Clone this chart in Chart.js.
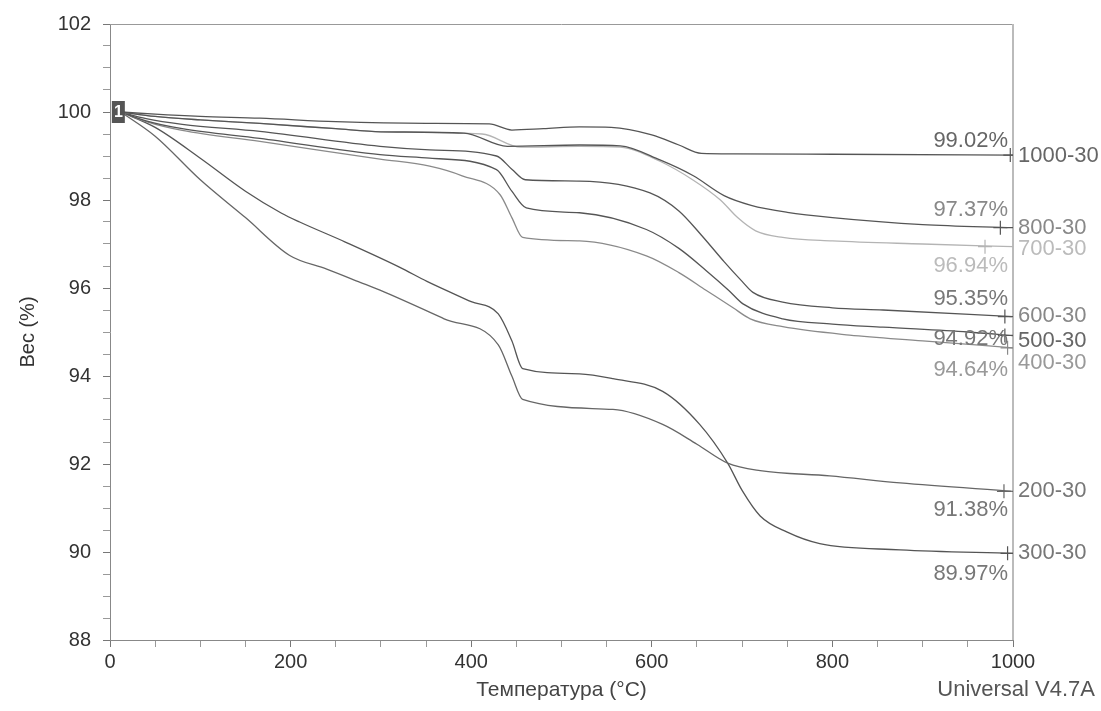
<!DOCTYPE html>
<html>
<head>
<meta charset="utf-8">
<script src="https://cdn.jsdelivr.net/npm/chart.js@4.4.0/dist/chart.umd.min.js"></script>
<style>
  html, body { margin: 0; padding: 0; background: #fff; }
  #wrap { width: 1101px; height: 711px; }
</style>
</head>
<body>
<div id="wrap"><canvas id="tga" width="1101" height="711"></canvas></div>
<script>
// TGA curves, temperature (°C) vs weight (%)

const seriesNames = ['1000-30', '800-30', '700-30', '600-30', '500-30', '400-30', '200-30', '300-30'];
const finalValues = [99.02, 97.37, 96.94, 95.35, 94.92, 94.64, 91.38, 89.97];
const crossT = [997, 986, 969, 991, 991, 994, 990, 994];

const t1000 = [12, 50, 100, 166, 250, 350, 420, 445, 480, 520, 555, 600, 630, 655, 690, 800, 1000];
const w1000 = [100, 99.95, 99.9, 99.86, 99.78, 99.74, 99.73, 99.59, 99.62, 99.66, 99.65, 99.48, 99.25, 99.06, 99.05, 99.04, 99.02];

const t800 = [12, 50, 100, 166, 250, 300, 392, 440, 520, 565, 609, 646, 680, 710, 750, 800, 900, 1000];
const w800 = [100, 99.9, 99.82, 99.74, 99.62, 99.55, 99.52, 99.22, 99.25, 99.23, 98.91, 98.55, 98.1, 97.88, 97.72, 97.6, 97.44, 97.37];

const t700 = [12, 50, 100, 166, 250, 300, 412, 455, 520, 565, 609, 646, 676, 695, 715, 745, 800, 900, 1000];
const w700 = [100, 99.9, 99.82, 99.74, 99.62, 99.55, 99.5, 99.2, 99.22, 99.2, 98.88, 98.45, 98.0, 97.6, 97.3, 97.15, 97.07, 97.0, 96.94];

const t600 = [12, 40, 80, 166, 299, 354, 428, 445, 460, 520, 598, 630, 655, 680, 700, 712, 745, 800, 856, 1000];
const w600 = [100, 99.85, 99.72, 99.56, 99.22, 99.14, 99.0, 98.7, 98.46, 98.43, 98.16, 97.75, 97.2, 96.6, 96.15, 95.9, 95.68, 95.55, 95.5, 95.35];

const t500 = [12, 40, 80, 166, 299, 354, 428, 445, 461, 520, 594, 630, 660, 685, 701, 745, 800, 856, 950, 1000];
const w500 = [100, 99.8, 99.62, 99.4, 99.03, 98.95, 98.69, 98.2, 97.82, 97.71, 97.33, 96.9, 96.4, 95.95, 95.64, 95.3, 95.18, 95.11, 95.0, 94.92];

const t400 = [12, 40, 80, 166, 299, 354, 390, 432, 445, 457, 520, 594, 630, 660, 690, 709, 745, 819, 900, 1000];
const w400 = [100, 99.78, 99.58, 99.33, 98.93, 98.77, 98.55, 98.12, 97.6, 97.15, 97.07, 96.73, 96.35, 95.95, 95.55, 95.3, 95.12, 94.93, 94.8, 94.64];

const t200 = [12, 50, 100, 150, 199, 240, 277, 299, 370, 430, 445, 457, 557, 612, 650, 684, 720, 797, 875, 1000];
const w200 = [100, 99.45, 98.46, 97.6, 96.74, 96.43, 96.13, 95.95, 95.3, 94.71, 94.0, 93.47, 93.24, 92.9, 92.45, 92.02, 91.85, 91.73, 91.57, 91.38];

const t300 = [12, 50, 100, 150, 190, 210, 260, 321, 351, 400, 430, 445, 457, 520, 557, 612, 653, 684, 700, 720, 750, 786, 875, 1000];
const w300 = [100, 99.65, 98.95, 98.2, 97.7, 97.5, 97.05, 96.47, 96.15, 95.69, 95.41, 94.8, 94.17, 94.05, 93.94, 93.65, 92.9, 92.02, 91.4, 90.82, 90.45, 90.19, 90.05, 89.97];

const xTicksMajor = [0, 200, 400, 600, 800, 1000];
const yTicksMajor = [88, 90, 92, 94, 96, 98, 100, 102];

const temps = [t1000, t800, t700, t600, t500, t400, t200, t300];
const weights = [w1000, w800, w700, w600, w500, w400, w200, w300];

// styling per curve
const lineColors = ['#555', '#555', '#b4b4b4', '#555', '#555', '#8a8a8a', '#666', '#555'];
const pctColors = ['#666', '#888', '#bbb', '#777', '#777', '#999', '#777', '#777'];
const nameColors = ['#666', '#888', '#bbb', '#888', '#666', '#999', '#777', '#777'];
const pctDy = [-14, -18, 19, -18, 3, 22, 19, 21];
const nameDy = [1, 0, 2, -1, 5, 15, 0, 0];

const FONT = '"Liberation Sans", Arial, sans-serif';

function toPoints(ts, ws) {
  return ts.map((t, i) => ({ x: t, y: ws[i] }));
}

const datasets = seriesNames.map((name, i) => ({
  label: name,
  data: toPoints(temps[i], weights[i]),
  borderColor: lineColors[i],
  borderWidth: 1.3,
  pointRadius: 0,
  cubicInterpolationMode: 'monotone',
  fill: false,
}));

// small "+" cursor marks near the end of each curve
seriesNames.forEach((name, i) => {
  datasets.push({
    label: name + ' mark',
    data: [{ x: crossT[i], y: finalValues[i] }],
    showLine: false,
    pointStyle: 'cross',
    pointRadius: 7,
    pointBorderWidth: 1.2,
    pointBorderColor: lineColors[i],
    pointBackgroundColor: lineColors[i],
  });
});

const annotations = {
  id: 'annotations',
  beforeDatasetsDraw(chart) {
    const { ctx, chartArea: a } = chart;
    ctx.save();
    ctx.strokeStyle = '#999';
    ctx.lineWidth = 1;
    ctx.beginPath();
    ctx.moveTo(a.left, a.top + 0.5);
    ctx.lineTo(a.right, a.top + 0.5);
    ctx.stroke();
    ctx.strokeStyle = '#bbb';
    ctx.lineWidth = 2;
    ctx.beginPath();
    ctx.moveTo(a.right, a.top);
    ctx.lineTo(a.right, a.bottom);
    ctx.stroke();
    ctx.restore();
  },
  afterDatasetsDraw(chart) {
    const { ctx, scales: { x, y } } = chart;
    const right = x.getPixelForValue(1000);
    ctx.save();
    ctx.font = '22px ' + FONT;
    ctx.textBaseline = 'middle';
    finalValues.forEach((v, i) => {
      const py = y.getPixelForValue(v);
      ctx.fillStyle = pctColors[i];
      ctx.textAlign = 'right';
      ctx.fillText(v.toFixed(2) + '%', right - 5, py + pctDy[i]);
      ctx.fillStyle = nameColors[i];
      ctx.textAlign = 'left';
      ctx.fillText(seriesNames[i], right + 5, py + nameDy[i]);
    });

    // start marker "1"
    const sx = x.getPixelForValue(t1000[0]);
    const sy = y.getPixelForValue(w1000[0]);
    ctx.fillStyle = '#555';
    ctx.fillRect(sx - 9, sy - 11, 13, 22);
    ctx.fillStyle = '#fff';
    ctx.textAlign = 'center';
    ctx.font = 'bold 16px ' + FONT;
    ctx.fillText('1', sx - 2.5, sy + 1);

    ctx.fillStyle = '#555';
    ctx.font = '22px ' + FONT;
    ctx.textAlign = 'right';
    ctx.fillText('Universal V4.7A', 1095, 690);
    ctx.restore();
  },
};

new Chart(document.getElementById('tga'), {
  type: 'line',
  data: { datasets },
  plugins: [annotations],
  options: {
    responsive: false,
    devicePixelRatio: 1,
    animation: false,
    events: [],
    layout: { padding: { top: 20, right: 88, bottom: 0, left: 0 } },
    plugins: { legend: { display: false }, tooltip: { enabled: false } },
    scales: {
      x: {
        type: 'linear',
        min: 0,
        max: 1000,
        afterFit: (s) => { s.height = 71; },
        border: { display: true, color: '#888', width: 1 },
        grid: {
          drawOnChartArea: false,
          drawTicks: true,
          tickLength: 7,
          tickColor: (c) => (xTicksMajor.includes(c.tick.value) ? '#777' : '#999'),
        },
        ticks: {
          stepSize: 50,
          autoSkip: false,
          maxRotation: 0,
          padding: 3,
          color: '#333',
          font: { family: FONT, size: 20 },
          callback: (v) => (xTicksMajor.includes(v) ? String(v) : ''),
        },
        title: {
          display: true,
          text: 'Температура (°C)',
          color: '#444',
          font: { family: FONT, size: 21 },
          padding: { top: 0, bottom: 8 },
        },
      },
      y: {
        min: 88,
        max: 102,
        afterFit: (s) => { s.width = 110; },
        border: { display: true, color: '#888', width: 1 },
        grid: {
          drawOnChartArea: false,
          drawTicks: true,
          tickLength: 7,
          tickColor: (c) => (yTicksMajor.includes(c.tick.value) ? '#777' : '#999'),
        },
        ticks: {
          stepSize: 0.5,
          autoSkip: false,
          padding: 12,
          color: '#333',
          font: { family: FONT, size: 20 },
          callback: (v) => (yTicksMajor.includes(v) ? String(v) : ''),
        },
        title: {
          display: true,
          text: 'Вес (%)',
          color: '#333',
          font: { family: FONT, size: 20 },
          padding: { top: 16, bottom: 0 },
        },
      },
    },
  },
});
</script>
</body>
</html>
